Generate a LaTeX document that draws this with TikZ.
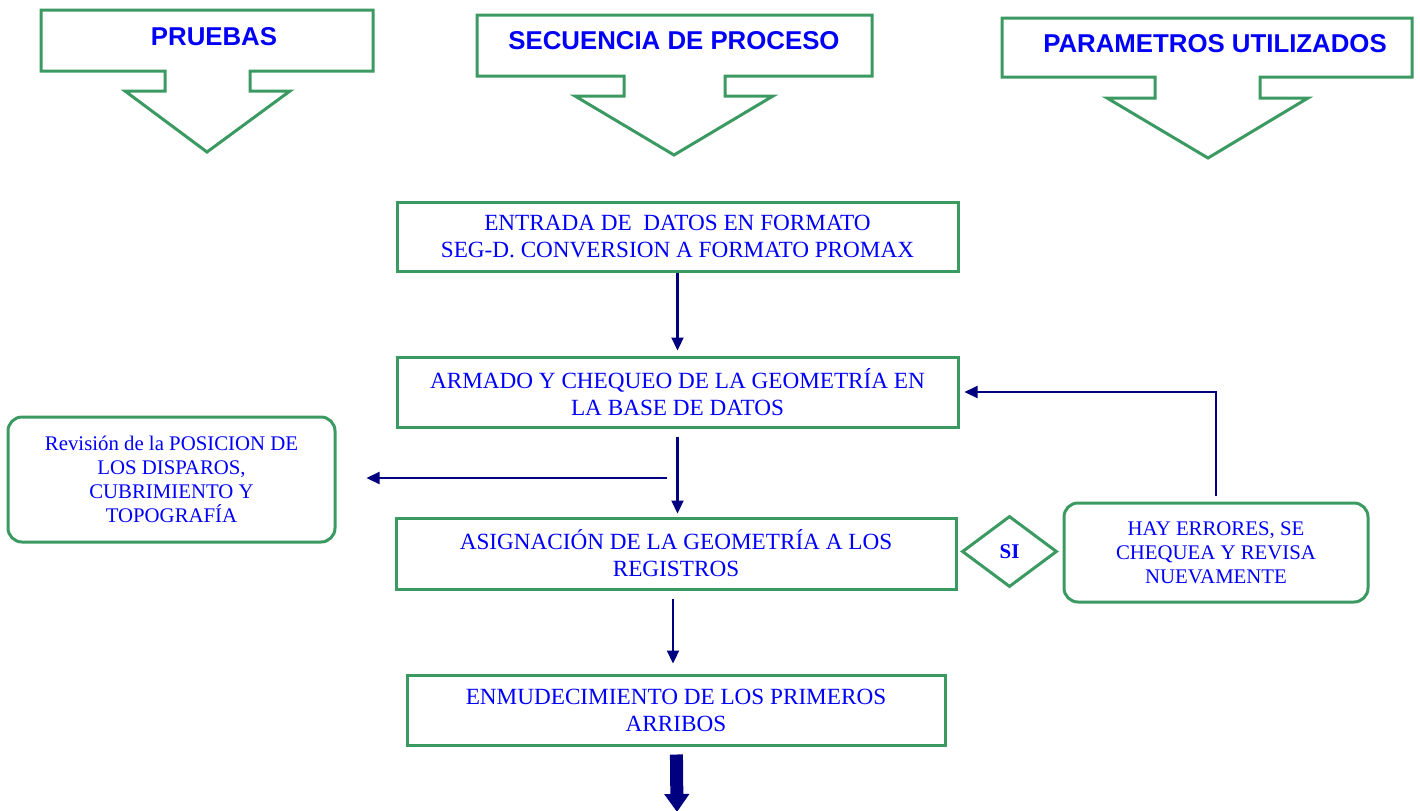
\documentclass[tikz,border=0pt]{standalone}
\usepackage{fontspec}
\setmainfont{Liberation Serif}
\newfontfamily\headfont{Liberation Sans}
\usetikzlibrary{shapes.geometric}
\usetikzlibrary{arrows.meta}
\definecolor{boxgreen}{RGB}{58,154,98}
\definecolor{txtblue}{RGB}{0,0,250}
\definecolor{flownavy}{RGB}{0,0,128}
\tikzset{
    header/.style={draw=boxgreen, line width=1.5pt, fill=white},
    headtext/.style={text=txtblue, font=\headfont\bfseries\fontsize{12.9}{15}\selectfont},
    procbox/.style={draw=boxgreen, line width=1.5pt, text=txtblue, align=center,
        inner sep=0pt, font=\fontsize{11.6}{13.5}\selectfont,
        execute at begin node={\rule{0pt}{14pt}}},
    notebox/.style={procbox, rounded corners=7pt, font=\fontsize{10.4}{12}\selectfont,
        execute at begin node={\rule{0pt}{11pt}}},
    decision/.style={diamond, draw=boxgreen, line width=1.5pt, text=txtblue, inner sep=0pt,
        aspect=1.3, font=\bfseries\fontsize{10.5}{12}\selectfont},
    flow/.style={draw=flownavy, line width=1.1pt, -{Triangle[length=6.5pt,width=6pt]}},
    bigflow/.style={draw=flownavy, line width=6.5pt, -{Triangle[length=9pt,width=12pt]}}
}

\begin{document}
\begin{tikzpicture}[x=0.5pt, y=-0.5pt]
\useasboundingbox (0,0) rectangle (1420,810);
% header arrows
\draw[style={header}]
  (41,10) -- (373,10) -- (373,71) -- (250,71) -- (250,91) -- (290,91) -- (207,152)
  -- (125,91) -- (165,91) -- (165,71) -- (41,71) -- cycle;
\draw[style={header}]
  (477,15) -- (872,15) -- (872,76) -- (725,76) -- (725,96) -- (773,96) -- (674,155)
  -- (575,96) -- (624,96) -- (624,76) -- (477,76) -- cycle;
\draw[style={header}]
  (1002,18) -- (1412,18) -- (1412,77) -- (1260,77) -- (1260,98) -- (1308,98) -- (1208,158)
  -- (1107,98) -- (1155,98) -- (1155,77) -- (1002,77) -- cycle;
\node[headtext] (pruebas) at (214,37) {PRUEBAS};
\node[headtext] (secuencia) at (674,41) {SECUENCIA DE PROCESO};
\node[headtext] (parametros) at (1215,44) {PARAMETROS UTILIZADOS};

% process boxes
\node[procbox, minimum width=280.5pt, minimum height=34.5pt] (entrada) at (677.5,236.5)
  {ENTRADA DE~ DATOS EN FORMATO\\SEG-D. CONVERSION A FORMATO PROMAX};
\node[procbox, minimum width=280.5pt, minimum height=35pt] (armado) at (677.5,392)
  {ARMADO Y CHEQUEO DE LA GEOMETRÍA EN\\LA BASE DE DATOS};
\node[procbox, minimum width=280pt, minimum height=35.5pt] (asign) at (676,553.5)
  {ASIGNACIÓN DE LA GEOMETRÍA A LOS\\REGISTROS};
\node[procbox, minimum width=269pt, minimum height=35pt] (enmud) at (676,710)
  {ENMUDECIMIENTO DE LOS PRIMEROS\\ARRIBOS};
\node[notebox, minimum width=163.5pt, minimum height=62.5pt] (revision) at (171.5,479.5)
  {Revisión de la POSICION DE\\LOS DISPAROS,\\CUBRIMIENTO Y\\TOPOGRAFÍA};
\node[notebox, minimum width=152pt, minimum height=49.5pt] (hay) at (1216,552.5)
  {HAY ERRORES, SE\\CHEQUEA Y REVISA\\NUEVAMENTE};
\node[decision, minimum width=47.5pt, minimum height=35.5pt] (si) at (1009.5,551.5) {SI};

% connectors
\coordinate (split) at (667,478);
\coordinate (bottom) at (677,812);
\draw[style={flow}, shorten >=2.5pt] (entrada) -- (armado);
\draw[style={flow}, shorten <=4pt, shorten >=1.5pt] (armado.south) -- (armado.south |- asign.north);
\draw[style={flow}, shorten >=15pt] (split) -- (split -| revision.east);
\draw[style={flow}, shorten <=4pt, shorten >=5pt]
  ([xshift=-1.5pt]asign.south) -- ([xshift=-1.5pt]enmud.north);
\draw[style={flow}, shorten >=2.5pt] ([yshift=3pt]hay.north) |- (armado.east);
\draw[style={bigflow}, shorten <=4pt] (enmud) -- (bottom);
\end{tikzpicture}
\end{document}
